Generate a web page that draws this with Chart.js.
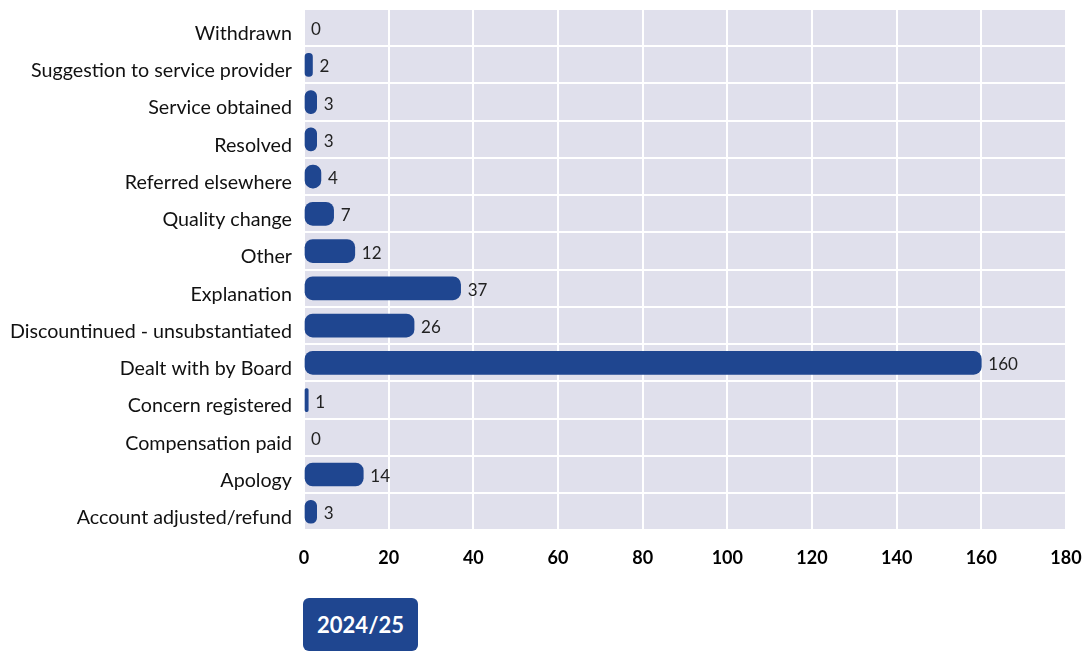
<!DOCTYPE html>
<html><head><meta charset="utf-8">
<script src="https://cdn.jsdelivr.net/npm/chart.js@4/dist/chart.umd.min.js"></script>
<style>
html,body{margin:0;padding:0;background:#fff;}
#wrap{position:relative;width:1091px;height:653px;}
#legend{position:absolute;left:303px;top:598px;width:115px;height:53px;background:#1f4690;border-radius:6px;color:#fff;font-family:Lato,sans-serif;font-weight:bold;font-size:22px;display:flex;align-items:center;justify-content:center;box-sizing:border-box;}
</style></head>
<body><div id="wrap"><canvas id="c" width="1091" height="653"></canvas><div id="legend">2024/25</div></div>
<script>
const categories = ["Withdrawn","Suggestion to service provider","Service obtained","Resolved","Referred elsewhere","Quality change","Other","Explanation","Discountinued - unsubstantiated","Dealt with by Board","Concern registered","Compensation paid","Apology","Account adjusted/refund"];
const values2024 = [0,2,3,3,4,7,12,37,26,160,1,0,14,3];
const seriesName = "2024/25";
const xTicks = [0,20,40,60,80,100,120,140,160,180];

const bgPlugin = {
  id:'bg',
  beforeDraw(chart){
    const {ctx, chartArea:a} = chart;
    ctx.save(); ctx.fillStyle='#e0e0ec'; ctx.fillRect(a.left,a.top,a.right-a.left,a.bottom-a.top); ctx.restore();
  }
};
const labelPlugin = {
  id:'lbl',
  afterDatasetsDraw(chart){
    const {ctx} = chart;
    const meta = chart.getDatasetMeta(0);
    ctx.save();
    ctx.font = '17px Lato, sans-serif'; ctx.fillStyle='#222'; ctx.textBaseline='middle'; ctx.textAlign='left';
    meta.data.forEach((b,i)=>{ ctx.fillText(String(values2024[i]), b.x+7, b.y+2); });
    ctx.restore();
  }
};
new Chart(document.getElementById('c'),{
  type:'bar',
  data:{labels:categories,datasets:[{label:seriesName,data:values2024,
    backgroundColor:(c)=>c.raw===0?'rgba(0,0,0,0)':'#1f4690',
    borderRadius:8,borderSkipped:false,barThickness:23}]},
  options:{
    indexAxis:'y',responsive:false,animation:false,
    layout:{padding:{top:9,right:25,bottom:67,left:0}},
    plugins:{legend:{display:false},tooltip:{enabled:false}},
    scales:{
      x:{min:0,max:180,afterBuildTicks(s){s.ticks=xTicks.map(v=>({value:v}));},
        afterFit(s){s.paddingLeft=0;s.paddingRight=0;},
        grid:{color:'#ffffff',lineWidth:2,drawTicks:false},border:{display:false},
        ticks:{color:'#000',padding:17,font:{family:'Lato',size:18,weight:'bold'}}},
      y:{afterFit(s){s.width=304;s.paddingTop=0;s.paddingBottom=0;},
        grid:{offset:true,color:'#ffffff',lineWidth:2,drawTicks:false},border:{display:false},
        ticks:{color:'#111',padding:12,labelOffset:6,font:{family:'Lato',size:19.7}}}
    }
  },
  plugins:[bgPlugin,labelPlugin]
});
</script></body></html>
